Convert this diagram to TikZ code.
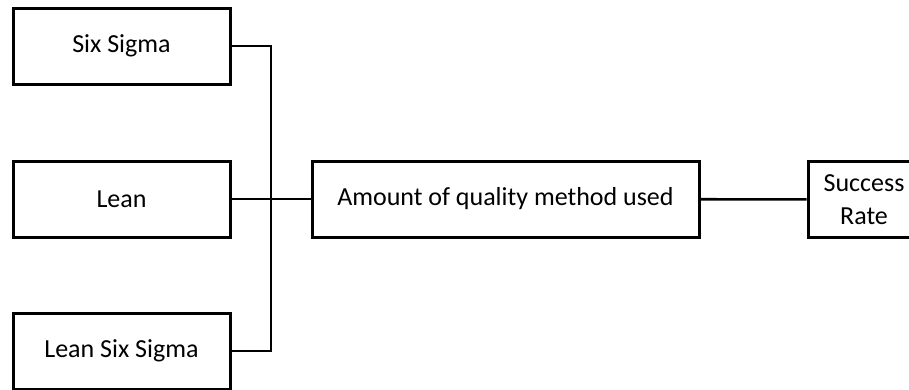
\documentclass[tikz,border=0pt]{standalone}
\usepackage{fontspec}
\setmainfont{Carlito}
\usepackage{tikz}
\usetikzlibrary{positioning}
\tikzset{
  box/.style  = {draw,line width=3pt,minimum height=76pt,inner sep=0pt,
                 font=\fontsize{26pt}{33pt}\selectfont,align=center},
  link/.style = {line width=2.6pt}
}

\begin{document}
\begin{tikzpicture}[x=1pt,y=-1pt]
    \clip (0,0) rectangle (909,389);

    % methods on the left
    \node[box,minimum width=217pt] (six)  at (121.5,46)  {Six Sigma};
    \node[box,minimum width=217pt] (lean) at (121.5,199) {Lean};
    \node[box,minimum width=217pt] (lss)  at (121.5,351) {Lean Six Sigma};

    % middle and right
    \node[box,minimum width=387pt] (amount) at (505.5,199) {Amount of quality method used};
    \node[box,minimum width=112pt] (rate)   at (864,199.5) {Success\\Rate};

    % joins the three methods
    \coordinate (bus) at (271,199);
    \draw[link] (six.east) -| (bus) |- (lss.east);
    \draw[link] (lean) -- (amount);
    \draw[link] (amount) -- (rate);
\end{tikzpicture}
\end{document}
